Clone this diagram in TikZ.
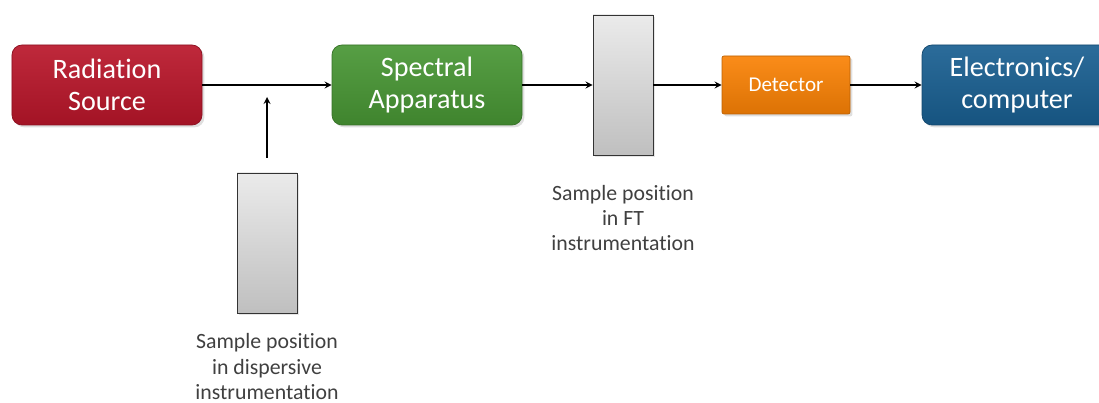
\documentclass[tikz,border=0pt]{standalone}
\usepackage{fontspec}
\setmainfont{Carlito}[Ligatures=NoCommon]
\usetikzlibrary{shadows,positioning}
\definecolor{srcred}{RGB}{185,22,42}
\definecolor{appgreen}{RGB}{72,150,52}
\definecolor{detorange}{RGB}{250,130,5}
\definecolor{elecblue}{RGB}{25,95,145}
\definecolor{labelgray}{RGB}{64,64,64}

\begin{document}
\begin{tikzpicture}[x=0.25mm,y=-0.25mm,line width=1.2pt,
  block/.style={rounded corners=2.5mm,minimum width=47.5mm,minimum height=20mm,
    inner sep=0pt,align=center,text=white,font=\fontsize{20}{22.7}\selectfont,
    draw=#1!75!black,line width=0.5pt,top color=#1!92!white,bottom color=#1!88!black,
    drop shadow={opacity=0.25,shadow xshift=0.6mm,shadow yshift=-0.6mm}},
  holder/.style={minimum width=15mm,minimum height=35mm,inner sep=0pt,
    draw=black!80,line width=0.6pt,top color=black!8,bottom color=black!25,
    drop shadow={opacity=0.2,shadow xshift=0.6mm,shadow yshift=-0.6mm}},
  note/.style={align=center,inner sep=0pt,text=labelgray,font=\fontsize{15.5}{18}\selectfont},
  flow/.style={->,>=stealth,line width=1.2pt}]
  \useasboundingbox (0,0) rectangle (1099,403);
  \begin{scope}
  \clip (0,0) rectangle (1099,403);
  \node[block=srcred] (src) at (107,85) {Radiation\\Source};
  \node[block=appgreen] (app) at (427,85) {Spectral\\Apparatus};
  \node[holder] (ft) at (623,85) {};
  \node[block=detorange,rounded corners=0.5mm,minimum width=32mm,minimum height=14.5mm,
    font=\fontsize{15}{17}\selectfont] (det) at (786,85) {Detector};
  \node[block=elecblue] (elec) at (1017,85) {Electronics/\\computer};
  \node[holder] (disp) at (267,243) {};
  \end{scope}
  \node[note,below=7.2mm of ft.south] (ftnote) {Sample position\\in FT\\instrumentation};
  \node[note,below=4.9mm of disp.south] (dispnote) {Sample position\\in dispersive\\instrumentation};
  \coordinate (tail) at (267,158);
  \coordinate (tip) at (267,97);
  \draw[flow] (src) -- (app);
  \draw[flow] (app) -- (ft);
  \draw[flow] (ft) -- (det);
  \draw[flow] (det) -- (elec);
  \draw[flow] (tail) -- (tip);
\end{tikzpicture}
\end{document}
